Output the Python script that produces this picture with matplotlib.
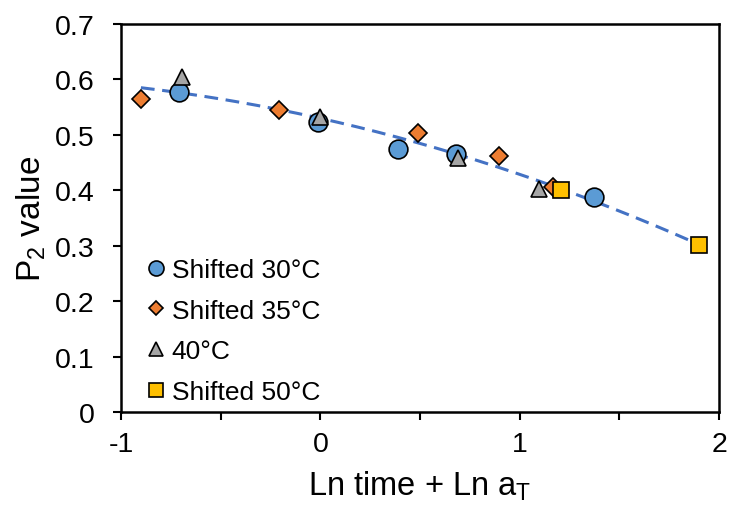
import numpy as np
import matplotlib
matplotlib.use("Agg")
import matplotlib.pyplot as plt

plt.rcParams['font.family'] = ['Liberation Sans', 'DejaVu Sans']
plt.rcParams['axes.unicode_minus'] = False

# values
x30 = [-0.707, -0.013, 0.388, 0.681, 1.375]
y30 = [0.577, 0.523, 0.474, 0.465, 0.388]
x35 = [-0.900, -0.206, 0.489, 0.895, 1.169]
y35 = [0.565, 0.544, 0.503, 0.462, 0.406]
x40 = [-0.695, -0.002, 0.692, 1.099]
y40 = [0.604, 0.532, 0.458, 0.402]
x50 = [1.208, 1.900]
y50 = [0.400, 0.301]

x_ticks = [-1, 0, 1, 2]
y_ticks = [0, 0.1, 0.2, 0.3, 0.4, 0.5, 0.6, 0.7]
y_ticklabels = ['0', '0.1', '0.2', '0.3', '0.4', '0.5', '0.6', '0.7']

fig = plt.figure(figsize=(7.31, 5.06), dpi=100)
ax = fig.add_axes([0.1655, 0.1838, 0.8181, 0.7668])

# polynomial (order 2) trend line through all points, like the spreadsheet trendline
all_x = np.array(x30 + x35 + x40 + x50)
all_y = np.array(y30 + y35 + y40 + y50)
coef = np.polyfit(all_x, all_y, 2)
xs = np.linspace(all_x.min(), all_x.max(), 200)
ax.plot(xs, np.polyval(coef, xs), color='#4472C4', lw=2.2, dashes=(4.5, 2.5), zorder=1)

ax.plot(x30, y30, 'o', ms=13.5, mfc='#5B9BD5', mec='black', mew=1.2, label='Shifted 30°C', zorder=3)
ax.plot(x35, y35, 'D', ms=9.5, mfc='#ED7D31', mec='black', mew=1.2, label='Shifted 35°C', zorder=3)
ax.plot(x40, y40, '^', ms=12, mfc='#A5A5A5', mec='black', mew=1.2, label='40°C', zorder=4)
ax.plot(x50, y50, 's', ms=12, mfc='#FFC000', mec='black', mew=1.2, label='Shifted 50°C', zorder=4)

ax.set_xlim(-1, 2)
ax.set_ylim(0, 0.7)
ax.set_xticks(x_ticks)
ax.set_xticks([-0.5, 0.5, 1.5], minor=True)
ax.set_yticks(y_ticks)
ax.set_yticklabels(y_ticklabels)
ax.tick_params(which='both', direction='out', length=6, width=1.5, labelsize=20.5)
ax.tick_params(axis='x', pad=8)
ax.tick_params(axis='y', pad=13)
for s in ax.spines.values():
    s.set_linewidth(1.8)

ax.set_xlabel('Ln time + Ln a$_\\mathregular{T}$', fontsize=23.5, labelpad=8)
ax.set_ylabel('P$_\\mathregular{2}$ value', fontsize=24, labelpad=5)

ax.legend(loc='lower left', bbox_to_anchor=(0.028, -0.006), frameon=False, fontsize=19,
          markerscale=0.8, handlelength=0.6, handletextpad=0.28, labelspacing=0.63,
          borderaxespad=0.0)

fig.savefig('out.png', dpi=100)
